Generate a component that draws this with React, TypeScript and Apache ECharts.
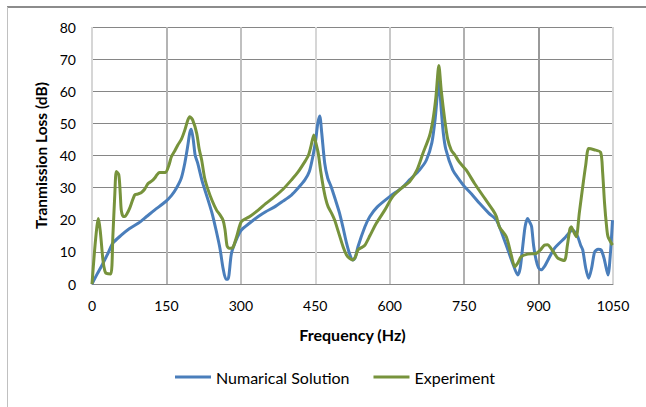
import React, { useEffect, useRef } from "react";
import * as echarts from "echarts";

const xTicks = [0, 150, 300, 450, 600, 750, 900, 1050];
const yTicks = [0, 10, 20, 30, 40, 50, 60, 70, 80];

const numericalFreq = [0, 10, 22, 32, 42, 59, 75, 93, 110, 126, 148, 160, 170, 180, 187, 193, 197, 200, 204, 208, 213, 222, 234, 242, 250, 258, 264, 270, 274, 281, 290, 301, 318, 335, 350, 368, 385, 402, 415, 429, 438, 445, 451, 455, 459, 463, 469, 475, 482, 490, 499, 506, 513, 520, 526, 530, 536, 550, 560, 575, 600, 625, 640, 660, 674, 685, 692, 699, 704, 708, 713, 727, 740, 751, 765, 781, 800, 815, 831, 848, 858, 863, 868, 873, 878, 883, 886, 890, 895, 900, 905, 912, 919, 932, 952, 969, 974, 979, 985, 989, 995, 1001, 1007, 1013, 1020, 1026, 1032, 1040, 1045, 1049];
const numericalTL = [0, 3, 6.4, 9.5, 12.7, 15.2, 17.2, 18.9, 21, 23, 25.6, 27.5, 29.8, 33, 37.6, 43, 47, 48.2, 45, 40, 37.6, 32, 26.1, 22, 16.8, 11, 5, 1.5, 1.5, 9.5, 13.5, 16.8, 19, 21, 22.5, 24, 25.8, 27.7, 29.8, 32.4, 35, 39.6, 45, 50, 52.3, 47, 37.6, 33, 30.3, 26.5, 22, 17.5, 12.7, 9, 7.5, 8, 11.6, 17.8, 21, 24, 27.2, 30, 32.4, 35.5, 38.6, 44, 52, 63, 54, 47, 42, 35.5, 32.5, 30.3, 28, 25.1, 22, 19.9, 13.7, 6.4, 2.8, 5, 11.6, 18, 20.4, 19, 17.8, 12, 7.5, 5, 4.4, 5.5, 7.5, 11.1, 14.2, 16.8, 16, 14.7, 12, 10.6, 5, 1.8, 5, 10, 10.8, 10.6, 8, 2.8, 10, 19.9];

const experimentFreq = [0, 5, 10, 13, 17, 22, 26, 29, 38, 42, 46, 49, 54, 57, 59, 63, 66, 71, 76, 86, 92, 99, 106, 113, 120, 126, 131, 136, 148, 155, 160, 167, 173, 180, 187, 193, 197, 203, 211, 216, 221, 227, 234, 242, 251, 258, 264, 268, 272, 276, 284, 292, 301, 318, 335, 350, 368, 385, 402, 415, 429, 436, 441, 447, 451, 456, 461, 466, 471, 476, 483, 489, 497, 506, 513, 519, 526, 531, 536, 545, 550, 560, 573, 590, 606, 625, 640, 655, 667, 680, 687, 693, 699, 704, 711, 717, 724, 732, 740, 754, 771, 790, 808, 815, 821, 835, 845, 852, 858, 865, 878, 895, 903, 912, 918, 925, 932, 939, 952, 958, 963, 966, 970, 976, 982, 989, 995, 1001, 1012, 1025, 1029, 1033, 1037, 1040, 1049];
const experimentTL = [0, 10, 18, 20.4, 16, 7.5, 4, 3.3, 3.1, 14.7, 28, 35, 34, 28, 23, 21, 21, 22, 23.6, 27.7, 28, 28.4, 29.5, 31.3, 32, 32.9, 34, 34.7, 34.7, 37, 39.6, 41.5, 43.3, 45, 47.9, 51, 52.1, 51, 46.9, 42, 38.6, 33, 29.3, 26, 23, 21.5, 19.9, 17, 12, 11.1, 11.4, 15, 19.4, 21, 23, 25, 27.2, 29.5, 32.4, 34.8, 38.1, 40, 42.7, 46.4, 44, 40.7, 35, 30.3, 26.5, 24, 22, 19.9, 16, 11.6, 9, 8, 7.5, 8.5, 10.6, 11.5, 12.1, 15, 18.9, 23, 27.2, 30, 31.8, 35.5, 40.7, 46, 51, 58, 68, 60, 51, 45, 41.7, 40, 38, 35.5, 31.3, 27, 23, 21, 17.8, 14.7, 9, 5.4, 6.5, 8.5, 9.3, 9.5, 10.5, 12.1, 12.2, 11.1, 9.5, 8, 7.3, 12, 17, 17.8, 16.5, 14.7, 22, 30.3, 37, 42.2, 41.8, 41, 35, 25.1, 18, 14.7, 12.1];

const seriesNames = ["Numarical Solution", "Experiment"];
const FONT = "Lato, 'Liberation Sans', sans-serif";

export default function App() {
  const ref = useRef<HTMLDivElement>(null);
  useEffect(() => {
    if (!ref.current) return;
    const chart = echarts.init(ref.current, undefined, { renderer: "svg" });
    const pair = (xs: number[], ys: number[]) => xs.map((x, i) => [x, ys[i]]);
    chart.setOption({
      animation: false,
      backgroundColor: "#ffffff",
      textStyle: { fontFamily: FONT },
      grid: { left: 92, right: 33, top: 27, bottom: 123, containLabel: false },
      graphic: [
        { type: "line", shape: { x1: 7, y1: 7, x2: 646, y2: 7 }, style: { stroke: "#8c8c8c", lineWidth: 2 } },
        { type: "line", shape: { x1: 7.5, y1: 7, x2: 7.5, y2: 407 }, style: { stroke: "#c0c0c0", lineWidth: 1 } },
      ],
      xAxis: {
        type: "value",
        min: xTicks[0],
        max: xTicks[xTicks.length - 1],
        interval: 150,
        name: "Frequency (Hz)",
        nameLocation: "middle",
        nameGap: 42,
        nameTextStyle: { fontFamily: FONT, fontWeight: "bold", fontSize: 16, color: "#000" },
        axisLine: { show: true, lineStyle: { color: "#868686", width: 1 } },
        axisTick: { show: false },
        axisLabel: { fontFamily: FONT, fontSize: 14, color: "#000", margin: 14, formatter: (v: number) => String(v) },
        splitLine: {
          show: true,
          lineStyle: {
            color: ["#d6d6d6", "#b4b4b4", "#c0c0c0", "#d6d6d6", "#c8c8c8", "#b0b0b0", "#999999", "#d6d6d6"],
            width: 2,
          },
        },
      },
      yAxis: {
        type: "value",
        min: yTicks[0],
        max: yTicks[yTicks.length - 1],
        interval: 10,
        name: "Tranmission Loss (dB)",
        nameLocation: "middle",
        nameGap: 42,
        nameTextStyle: { fontFamily: FONT, fontWeight: "bold", fontSize: 15.5, color: "#000" },
        axisLine: { show: false },
        axisTick: { show: false },
        axisLabel: { fontFamily: FONT, fontSize: 14, color: "#000", margin: 16 },
        splitLine: { show: true, lineStyle: { color: "#868686", width: 1 } },
      },
      legend: {
        bottom: 17,
        left: 170,
        itemWidth: 36,
        itemHeight: 3,
        itemGap: 24,
        icon: "rect",
        textStyle: { fontFamily: FONT, fontSize: 16, color: "#000" },
        data: seriesNames,
      },
      series: [
        {
          name: seriesNames[0],
          type: "line",
          data: pair(numericalFreq, numericalTL),
          showSymbol: false,
          smooth: 0.25,
          lineStyle: { color: "#4A7EBB", width: 3 },
          itemStyle: { color: "#4A7EBB" },
        },
        {
          name: seriesNames[1],
          type: "line",
          data: pair(experimentFreq, experimentTL),
          showSymbol: false,
          smooth: 0.25,
          lineStyle: { color: "#77933C", width: 3 },
          itemStyle: { color: "#77933C" },
        },
      ],
    });
    return () => chart.dispose();
  }, []);
  return (
    <div
      ref={ref}
      style={{ position: "fixed", left: 0, top: 0, width: 646, height: 407, background: "#fff" }}
    />
  );
}
